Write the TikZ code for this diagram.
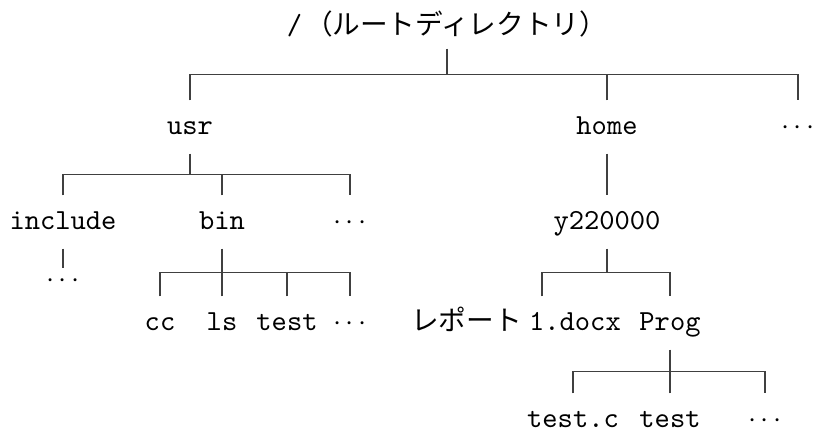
\documentclass[tikz,border=0pt]{standalone}
\usepackage{fontspec}
\usetikzlibrary{calc}
\newfontfamily\jpfont[Scale=0.95]{Noto Sans CJK JP}
\begin{document}
\begin{tikzpicture}[x=0.3436pt, y=-0.3436pt,
  lbl/.style={font=\ttfamily, inner xsep=0pt, inner ysep=0pt, text height=7.5pt, text depth=2.5pt, minimum height=17.9pt},
  rootlbl/.style={lbl, minimum height=14.4pt},
  branch/.style={draw=black!75, line width=0.45pt}]
\useasboundingbox (0,0) rectangle (813,432);
% nodes
\node[rootlbl] (root) at (447,27) {/\hspace{0.1em}{\jpfont （ルートディレクトリ）}};
\node[lbl] (usr) at (190,127) {usr};
\node[lbl] (home) at (607,127) {home};
\node[lbl] (d1) at (798,127) {$\cdots$};
\node[lbl] (inc) at (63,222) {include};
\node[lbl] (bin) at (222,222) {bin};
\node[lbl] (d2) at (350,222) {$\cdots$};
\node[lbl] (incd) at (63,280) {$\cdots$};
\node[lbl] (cc) at (160,323) {cc};
\node[lbl] (ls) at (222,323) {ls};
\node[lbl] (test1) at (287,323) {test};
\node[lbl] (d3) at (350,323) {$\cdots$};
\node[lbl] (y2) at (607,222) {y220000};
\node[lbl] (rep) at (516,323) {{\jpfont レポート}\hspace{0.25em}1.docx};
\node[lbl] (prog) at (670,323) {Prog};
\node[lbl] (tc) at (573,420) {test.c};
\node[lbl] (t2) at (670,420) {test};
\node[lbl] (d4) at (765,420) {$\cdots$};
% branch levels
\coordinate (rb) at ($(root.south)!0.5!(home.north)$);
\coordinate (ub) at ($(usr.south)!0.5!(bin.north)$);
\coordinate (bb) at ($(bin.south)!0.5!(ls.north)$);
\coordinate (yb) at ($(y2.south)!0.5!(prog.north)$);
\coordinate (pb) at ($(prog.south)!0.5!(t2.north)$);
\coordinate (repl) at ([xshift=8.9pt]rep.north);
% connectors
\draw[branch] (root.south) -- (root.south |- rb);
\draw[branch] (usr.north) -- (usr.north |- rb) -- (d1.north |- rb) -- (d1.north);
\draw[branch] (home.north) -- (home.north |- rb);
\draw[branch] (usr.south) -- (usr.south |- ub);
\draw[branch] (inc.north) -- (inc.north |- ub) -- (d2.north |- ub) -- (d2.north);
\draw[branch] (bin.north) -- (bin.north |- ub);
\draw[branch, shorten >=4.1pt] (inc.south) -- (incd.center);
\draw[branch] (bin.south) -- (bin.south |- bb);
\draw[branch] (cc.north) -- (cc.north |- bb) -- (d3.north |- bb) -- (d3.north);
\draw[branch] (ls.north) -- (ls.north |- bb);
\draw[branch] (test1.north) -- (test1.north |- bb);
\draw[branch] (home.south) -- (y2.north);
\draw[branch] (y2.south) -- (y2.south |- yb);
\draw[branch] (repl) -- (repl |- yb) -- (prog.north |- yb) -- (prog.north);
\draw[branch] (prog.south) -- (prog.south |- pb);
\draw[branch] (tc.north) -- (tc.north |- pb) -- (d4.north |- pb) -- (d4.north);
\draw[branch] (t2.north) -- (t2.north |- pb);
\end{tikzpicture}
\end{document}
